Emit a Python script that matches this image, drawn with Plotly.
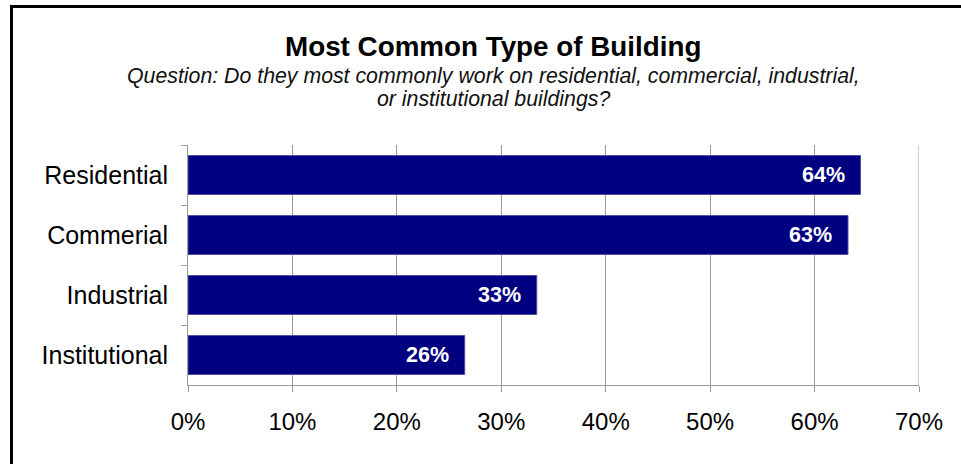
import plotly.graph_objects as go

categories = ["Residential", "Commerial", "Industrial", "Institutional"]
values = [64.4, 63.2, 33.4, 26.5]
labels = ["64%", "63%", "33%", "26%"]
x_ticks = [0, 10, 20, 30, 40, 50, 60, 70]
x_tick_text = ["0%", "10%", "20%", "30%", "40%", "50%", "60%", "70%"]

title = "Most Common Type of Building"
subtitle1 = "Question: Do they most commonly work on residential, commercial, industrial,"
subtitle2 = "or institutional buildings?"

FONT = "Liberation Sans, Arial, sans-serif"
W, H = 961, 464
L, R, T, B = 188, 42, 145, 79
pw, ph = W - L - R, H - T - B
GRID = "#9a9a9a"

def px_x(px):
    return (px - L) / pw

def px_y(py):
    return (H - B - py) / ph

fig = go.Figure()
fig.add_trace(go.Bar(
    x=values, y=categories, orientation="h",
    marker=dict(color="#000080", line=dict(color="#5050a8", width=1)),
    hoverinfo="skip", showlegend=False,
))

for v, c, t in zip(values, categories, labels):
    fig.add_annotation(x=v, y=c, xref="x", yref="y", text=f"<b>{t}</b>",
                       showarrow=False, xanchor="right", xshift=-14,
                       font=dict(family=FONT, size=21.5, color="white"))

fig.add_annotation(x=px_x(493), y=px_y(47), xref="paper", yref="paper",
                   text=f"<b>{title}</b>", showarrow=False,
                   xanchor="center", yanchor="middle",
                   font=dict(family=FONT, size=27.8, color="black"))
fig.add_annotation(x=px_x(493), y=px_y(76), xref="paper", yref="paper",
                   text=f"<i>{subtitle1}</i>", showarrow=False,
                   xanchor="center", yanchor="middle",
                   font=dict(family=FONT, size=21.3, color="#111111"))
fig.add_annotation(x=px_x(493), y=px_y(99), xref="paper", yref="paper",
                   text=f"<i>{subtitle2}</i>", showarrow=False,
                   xanchor="center", yanchor="middle",
                   font=dict(family=FONT, size=21.3, color="#111111"))

# gridline at the right edge of the range (plotly omits it)
fig.add_shape(type="line", xref="x", yref="paper",
              x0=x_ticks[-1], x1=x_ticks[-1], y0=0, y1=1,
              line=dict(color=GRID, width=1), layer="below")

fig.add_shape(type="rect", xref="paper", yref="paper",
              x0=px_x(11.5), x1=px_x(985), y0=px_y(490), y1=px_y(6.5),
              line=dict(color="black", width=3), fillcolor="rgba(0,0,0,0)",
              layer="above")

fig.update_layout(
    width=W, height=H,
    margin=dict(l=L, r=R, t=T, b=B, pad=0),
    paper_bgcolor="white", plot_bgcolor="white",
    bargap=0.35,
    font=dict(family=FONT, color="black"),
    xaxis=dict(range=[0, 70], tickvals=x_ticks, ticktext=x_tick_text,
               showgrid=True, gridcolor=GRID, gridwidth=1,
               showline=True, linecolor=GRID, linewidth=1,
               ticks="outside", ticklen=6, tickcolor=GRID,
               ticklabelstandoff=9,
               tickfont=dict(family=FONT, size=24, color="black"),
               zeroline=False, fixedrange=True),
    yaxis=dict(autorange="reversed", showgrid=False,
               showline=True, linecolor=GRID, linewidth=1,
               ticks="outside", ticklen=6, tickcolor=GRID,
               tickson="boundaries", ticklabelstandoff=14,
               tickfont=dict(family=FONT, size=25, color="black"),
               fixedrange=True),
)

fig.write_html("out.html")
